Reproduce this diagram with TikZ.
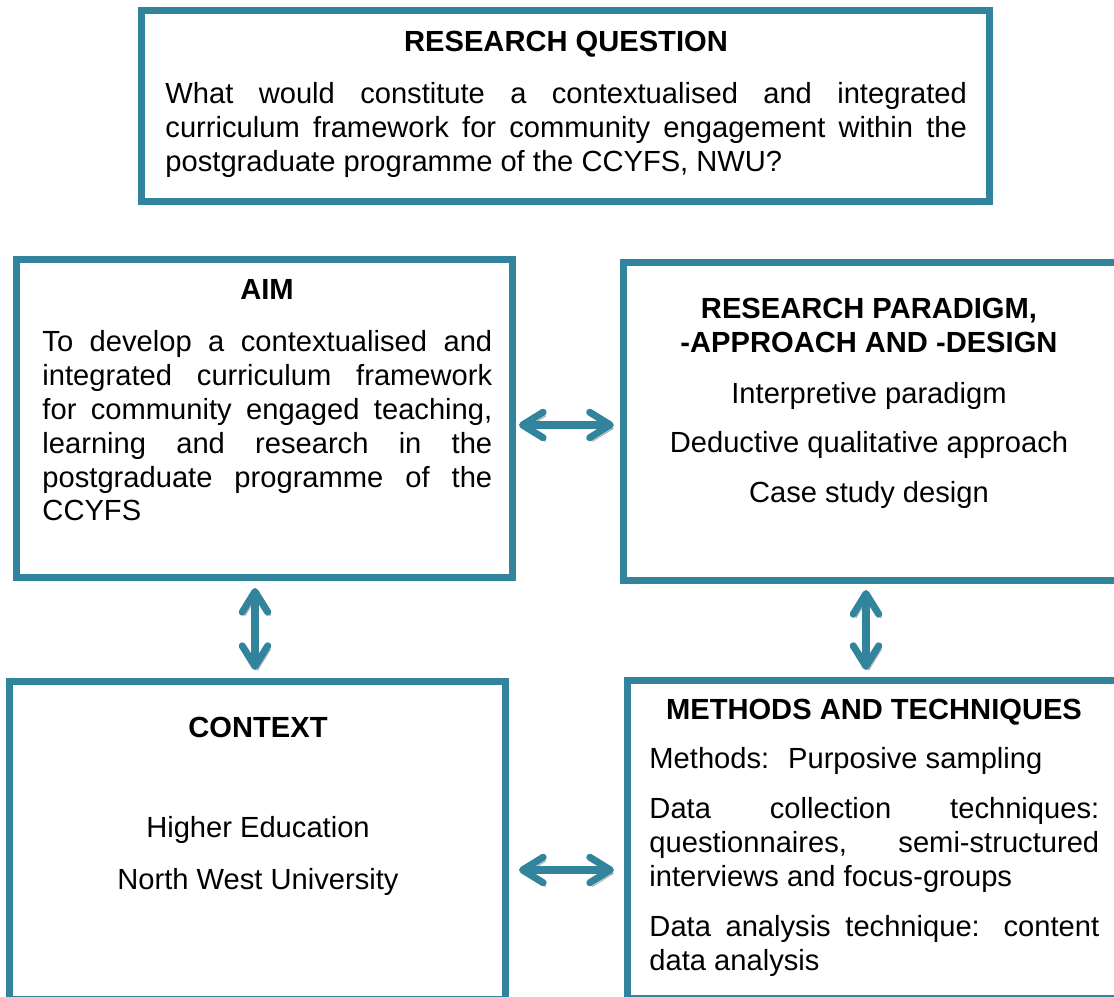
\documentclass[tikz,border=0pt]{standalone}
\usepackage{fontspec}
\setmainfont{Liberation Sans}
\usetikzlibrary{arrows.meta}
\definecolor{tealline}{RGB}{49,132,155}

\begin{document}
\begin{tikzpicture}[x=.412pt,y=-.412pt,font=\fontsize{12pt}{14pt}\selectfont,
  box/.style={draw=tealline,line width=2.9pt,inner sep=0pt,minimum width=204.4pt,minimum height=131pt},
  head/.style={font=\fontsize{12pt}{14pt}\selectfont\bfseries,inner sep=0pt,anchor=north,align=center},
  body/.style={inner sep=0pt,anchor=north west,text width=185.3pt,align=justify,
    execute at begin node={\hyphenpenalty=10000\tolerance=9999}},
  list/.style={inner sep=0pt,anchor=north,align=center},
  link/.style={tealline,line width=2.9pt,{Straight Barb[length=8.5pt,width=10.5pt,round]}-{Straight Barb[length=8.5pt,width=10.5pt,round]},
    preaction={draw=black!32,transform canvas={shift={(1.1pt,-1.5pt)}}}}]
\useasboundingbox (0,0) rectangle (1114,997);

\node[box,minimum width=349.4pt,minimum height=78.7pt] (rq) at (565.5,106) {};
\node[head] (rqh) at (566,30.5) {RESEARCH QUESTION};
\node[body,text width=330.2pt] (rqb) at (165,81.5) {What would constitute a contextualised and integrated\linebreak curriculum framework for community engagement within the\linebreak postgraduate programme of the CCYFS, NWU?};

\node[box] (aim) at (264.5,418.5) {};
\node[head] (aimh) at (267,278.5) {AIM};
\node[body] (aimb) at (42,329.5) {To develop a contextualised and\linebreak integrated curriculum framework\linebreak for community engaged teaching,\linebreak learning and research in the\linebreak postgraduate programme of the\linebreak CCYFS};

\node[box] (par) at (871.5,421.5) {};
\node[head] (parh) at (869,297.5) {RESEARCH PARADIGM,\\-APPROACH AND -DESIGN};
\node[list] (parb) at (869,381.5) {Interpretive paradigm\\[6.4pt]Deductive qualitative approach\\[6.4pt]Case study design};

\node[box] (ctx) at (257.5,840.5) {};
\node[head] (ctxh) at (258,716.5) {CONTEXT};
\node[list] (ctxb) at (258,815.5) {Higher Education\\[7.4pt]North West University};

\node[box] (meth) at (875.5,839.5) {};
\node[head] (methh) at (874,698.5) {METHODS AND TECHNIQUES};
\node[body] (methb) at (649,746.5) {Methods:~ Purposive sampling\par\vspace{6.6pt}
Data collection techniques:\linebreak questionnaires, semi-structured\linebreak interviews and focus-groups\par\vspace{6.6pt}
Data analysis technique: content\linebreak data analysis};

\draw[link,shorten <=1.2pt,shorten >=2.5pt] ([shift={(0,6.5)}]aim.east) -- ([shift={(0,3.5)}]par.west);
\draw[link,shorten <=2.9pt,shorten >=3.3pt] ([shift={(-9.5,0)}]aim.south) -- ([shift={(-2.5,0)}]ctx.north);
\draw[link,shorten <=2.5pt,shorten >=2.9pt] ([shift={(-5.5,0)}]par.south) -- ([shift={(-9.5,0)}]meth.north);
\draw[link,shorten <=4.1pt,shorten >=4.1pt] ([shift={(0,29.5)}]ctx.east) -- ([shift={(0,30.5)}]meth.west);
\end{tikzpicture}
\end{document}
